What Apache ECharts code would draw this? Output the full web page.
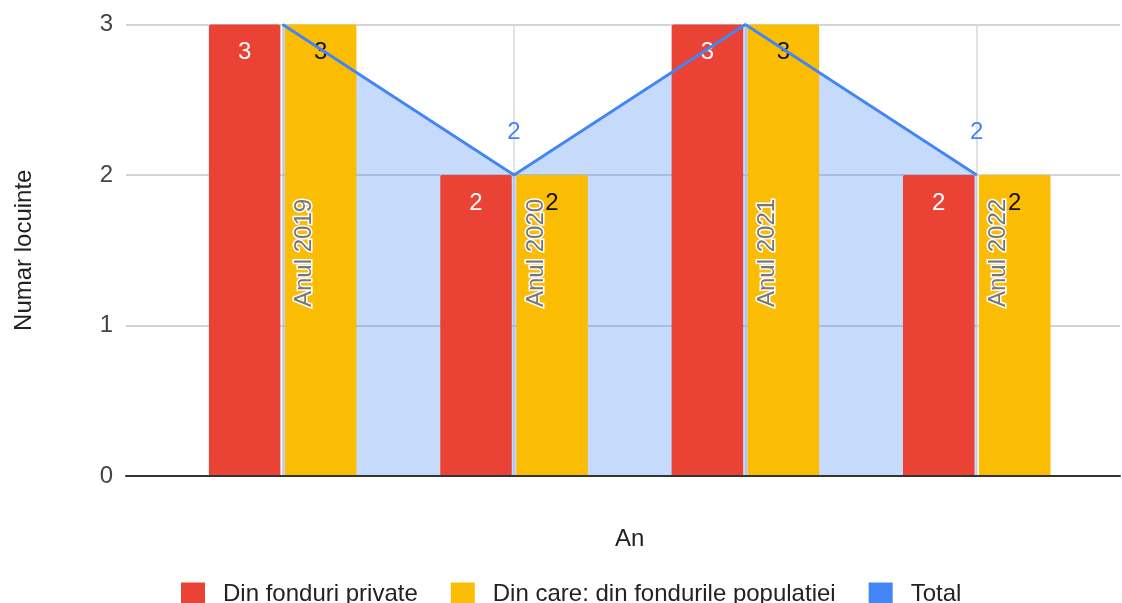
<!DOCTYPE html>
<html>
<head>
<meta charset="utf-8">
<script src="https://cdn.jsdelivr.net/npm/echarts@6/dist/echarts.min.js"></script>
<style>
html,body{margin:0;padding:0;background:#fff;}
#chart{width:1122px;height:603px;}
</style>
</head>
<body>
<div id="chart"></div>
<script>
const categories = ['Anul 2019', 'Anul 2020', 'Anul 2021', 'Anul 2022'];
const privateFunds = [3, 2, 3, 2];
const populationFunds = [3, 2, 3, 2];
const totalValues = [3, 2, 3, 2];
const seriesNames = ['Din fonduri private', 'Din care: din fondurile populatiei', 'Total'];
const yTicks = [0, 1, 2, 3];

const FONT = '"Liberation Sans", Arial, sans-serif';
const chart = echarts.init(document.getElementById('chart'), null, {renderer: 'canvas'});

const option = {
  backgroundColor: '#ffffff',
  animation: false,
  textStyle: {fontFamily: FONT},
  legend: {
    data: seriesNames,
    left: 176,
    top: 577,
    icon: 'rect',
    itemWidth: 24,
    itemHeight: 23,
    itemGap: 33,
    textStyle: {fontFamily: FONT, fontSize: 24, color: '#222', padding: [0, 0, 0, 13]}
  },
  grid: [
    {left: 126, right: 2, top: 24.5, bottom: 127, outerBoundsMode: 'none', containLabel: false},
    {left: 167, right: 29.6, top: 24.5, bottom: 127, outerBoundsMode: 'none', containLabel: false}
  ],
  xAxis: [
    {
      gridIndex: 0, type: 'value', min: 0, max: 1, z: 10,
      axisLine: {show: true, onZero: false, lineStyle: {color: '#333', width: 2}},
      axisTick: {show: false}, axisLabel: {show: false}, splitLine: {show: false}
    },
    {
      gridIndex: 1, type: 'category', data: categories, boundaryGap: true, z: 10,
      axisLine: {show: false}, axisTick: {show: false}, splitLine: {show: false},
      name: 'An', nameLocation: 'middle', nameGap: 51,
      nameTextStyle: {fontFamily: FONT, fontSize: 24, color: '#222'},
      axisLabel: {
        inside: true, rotate: 90, margin: 169, interval: 0,
        fontFamily: FONT, fontSize: 24, color: '#777',
        textBorderColor: '#fff', textBorderWidth: 3,
        verticalAlign: 'top', padding: [10, 0, 0, 0]
      }
    }
  ],
  yAxis: [
    {
      gridIndex: 0, type: 'value', min: yTicks[0], max: yTicks[yTicks.length - 1], interval: 1,
      axisLine: {show: false}, axisTick: {show: false},
      axisLabel: {fontFamily: FONT, fontSize: 24, color: '#444', margin: 13, padding: [3, 0, 0, 0]},
      splitLine: {show: true, lineStyle: {color: '#d4d4d4', width: 2}},
      name: 'Numar locuinte', nameLocation: 'middle', nameGap: 90, nameRotate: 90,
      nameTextStyle: {fontFamily: FONT, fontSize: 24, color: '#222'}
    },
    {
      gridIndex: 1, type: 'value', min: yTicks[0], max: yTicks[yTicks.length - 1], interval: 1,
      show: false, splitLine: {show: false}
    }
  ],
  series: [
    {
      name: '_area', type: 'line', xAxisIndex: 1, yAxisIndex: 1, data: totalValues,
      symbol: 'none', z: 1, silent: true,
      lineStyle: {width: 0, opacity: 0},
      itemStyle: {color: '#4285f4'},
      areaStyle: {color: '#4285f4', opacity: 0.3},
      markLine: {
        silent: true, symbol: 'none', z: 0,
        label: {show: false},
        lineStyle: {color: '#d8d8d8', width: 1.5, type: 'solid'},
        data: categories.map(c => ({xAxis: c}))
      }
    },
    {
      name: seriesNames[0], type: 'bar', xAxisIndex: 1, yAxisIndex: 1, data: privateFunds,
      barWidth: 71.5, barGap: '6.3%', z: 2,
      itemStyle: {color: '#ea4335', borderRadius: [2, 2, 0, 0]},
      label: {show: true, position: 'insideTop', distance: 16, fontFamily: FONT, fontSize: 24, color: '#fff'}
    },
    {
      name: seriesNames[1], type: 'bar', xAxisIndex: 1, yAxisIndex: 1, data: populationFunds,
      barWidth: 71.5, barGap: '6.3%', z: 2,
      itemStyle: {color: '#fbbc04', borderRadius: [2, 2, 0, 0]},
      label: {show: true, position: 'insideTop', distance: 16, fontFamily: FONT, fontSize: 24, color: '#111',
              textBorderColor: '#fbbc04', textBorderWidth: 3}
    },
    {
      name: seriesNames[2], type: 'line', xAxisIndex: 1, yAxisIndex: 1, data: totalValues,
      symbol: 'circle', symbolSize: 1, showSymbol: true, z: 3,
      itemStyle: {color: '#4285f4'},
      lineStyle: {color: '#4285f4', width: 2.8},
      label: {show: true, position: 'top', distance: 30, fontFamily: FONT, fontSize: 24, color: '#4285f4'}
    }
  ]
};
chart.setOption(option);
</script>
</body>
</html>
